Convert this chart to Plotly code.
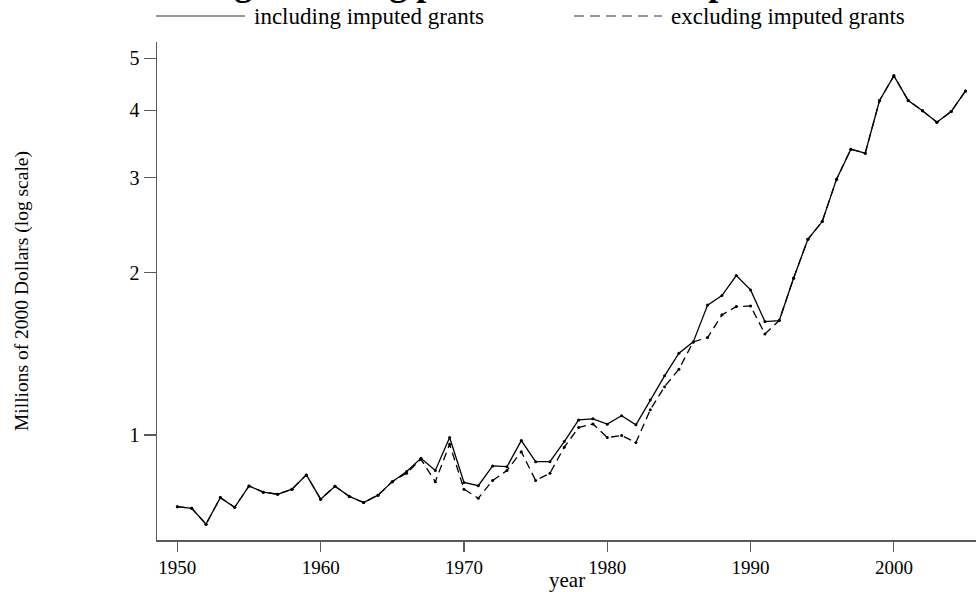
import plotly.graph_objects as go

years = list(range(1950, 2006))

including = [0.736, 0.731, 0.683, 0.765, 0.734, 0.804, 0.783, 0.776, 0.793, 0.843,
             0.760, 0.803, 0.769, 0.749, 0.773, 0.819, 0.855, 0.905, 0.859, 0.989,
             0.816, 0.805, 0.876, 0.873, 0.976, 0.892, 0.892, 0.972, 1.066, 1.071,
             1.047, 1.085, 1.044, 1.161, 1.287, 1.418, 1.488, 1.741, 1.814, 1.975,
             1.858, 1.623, 1.630, 1.953, 2.307, 2.488, 2.982, 3.390, 3.332, 4.173,
             4.637, 4.173, 3.993, 3.804, 3.981, 4.347]

excluding = [0.736, 0.731, 0.683, 0.765, 0.734, 0.804, 0.783, 0.776, 0.793, 0.843,
             0.760, 0.803, 0.769, 0.749, 0.773, 0.819, 0.849, 0.901, 0.819, 0.961,
             0.793, 0.763, 0.823, 0.859, 0.931, 0.823, 0.849, 0.949, 1.032, 1.048,
             0.989, 0.997, 0.968, 1.113, 1.229, 1.324, 1.488, 1.516, 1.670, 1.730,
             1.735, 1.539, 1.630, 1.953, 2.307, 2.488, 2.982, 3.390, 3.332, 4.173,
             4.637, 4.173, 3.993, 3.804, 3.981, 4.347]

y_ticks = [1, 2, 3, 4, 5]
x_ticks = [1950, 1960, 1970, 1980, 1990, 2000]

series_names = ["including imputed grants", "excluding imputed grants"]
title_text = "Average Funding per Research Group"

FONT = "Liberation Serif, Times New Roman, serif"
AXIS_COLOR = "#5a5a5a"

# plot area in screen pixels
PX0, PX1, PY0, PY1 = 157, 976, 42, 540
PW, PH = PX1 - PX0, PY1 - PY0


def px(xs):
    return (xs - PX0) / PW


def py(ys):
    return (PY1 - ys) / PH


fig = go.Figure()
fig.add_trace(go.Scatter(
    x=years, y=excluding, mode="lines+markers", name=series_names[1],
    line=dict(color="black", width=1.3, dash="8px,5px"),
    marker=dict(color="black", size=3), showlegend=False, hoverinfo="skip"))
fig.add_trace(go.Scatter(
    x=years, y=including, mode="lines+markers", name=series_names[0],
    line=dict(color="black", width=1.3),
    marker=dict(color="black", size=3), showlegend=False, hoverinfo="skip"))

fig.update_layout(
    width=976, height=592,
    margin=dict(l=PX0, r=976 - PX1, t=PY0, b=592 - PY1),
    paper_bgcolor="white", plot_bgcolor="white",
    font=dict(family=FONT, size=19, color="black"),
    showlegend=False,
)

fig.update_xaxes(
    range=[1948.58, 2005.73], tickvals=x_ticks, ticktext=[str(t) for t in x_ticks],
    showgrid=False, zeroline=False, showline=True, linecolor=AXIS_COLOR, linewidth=1.5,
    ticks="outside", ticklen=10, tickcolor=AXIS_COLOR, tickwidth=1.2,
    tickfont=dict(family=FONT, size=19, color="black"),
)
fig.update_yaxes(
    type="log", range=[-0.195, 0.729], tickvals=y_ticks, ticktext=[str(t) for t in y_ticks],
    showgrid=False, zeroline=False, showline=True, linecolor=AXIS_COLOR, linewidth=1.5,
    ticks="outside", ticklen=12, tickcolor=AXIS_COLOR, tickwidth=1.2,
    tickfont=dict(family=FONT, size=20, color="black"),
)

# X axis title
fig.add_annotation(
    text="year", xref="paper", yref="paper", x=0.5, y=py(580),
    xanchor="center", yanchor="middle", showarrow=False,
    font=dict(family=FONT, size=21, color="black"))

# Y axis title
fig.add_annotation(
    text="Millions of 2000 Dollars (log scale)", textangle=-90,
    xref="paper", yref="paper", x=px(22), y=0.5, xanchor="center", yanchor="middle",
    showarrow=False, font=dict(family=FONT, size=19.5, color="black"))

# Title (cut off at the top, as in the reference)
fig.add_annotation(
    text="<b>" + title_text + "</b>",
    xref="paper", yref="paper", x=px(141), y=py(5), xanchor="left", yanchor="bottom",
    showarrow=False, font=dict(family=FONT, size=36, color="black"))

# Manual legend
leg_y = py(16)
fig.add_shape(type="line", xref="paper", yref="paper",
              x0=px(156), x1=px(245), y0=leg_y, y1=leg_y,
              line=dict(color="#777777", width=1.3))
fig.add_annotation(text=series_names[0], xref="paper", yref="paper",
                   x=px(252), y=leg_y, xanchor="left", yanchor="middle",
                   showarrow=False, font=dict(family=FONT, size=23, color="black"))
fig.add_shape(type="line", xref="paper", yref="paper",
              x0=px(574), x1=px(662), y0=leg_y, y1=leg_y,
              line=dict(color="#777777", width=1.3, dash="10px,6px"))
fig.add_annotation(text=series_names[1], xref="paper", yref="paper",
                   x=px(669), y=leg_y, xanchor="left", yanchor="middle",
                   showarrow=False, font=dict(family=FONT, size=23, color="black"))

fig.write_html("out.html", config={"displayModeBar": False, "staticPlot": True},
               post_script="document.body.style.margin='0px';")
